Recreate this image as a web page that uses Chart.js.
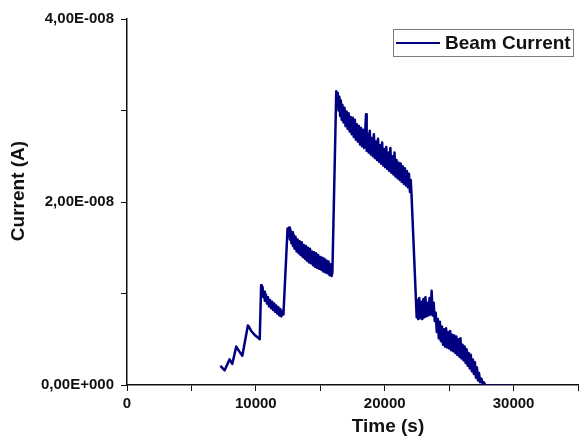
<!DOCTYPE html>
<html>
<head>
<meta charset="utf-8">
<script src="https://cdn.jsdelivr.net/npm/chart.js@4"></script>
<style>
  html, body { margin: 0; padding: 0; background: #fff; }
  canvas { display: block; }
</style>
</head>
<body>
<canvas id="beamChart" width="582" height="437"></canvas>
<script>
// time in seconds, current in nA (1 nA = 1E-009 A)
const timeSec = [
  7250, 7580, 7960, 8170, 8480, 8700, 8950, 9380, 9450, 9640, 9890, 10150, 10300,
  10410, 10460, 10520, 10580, 10640, 10700, 10780, 10860, 10940, 11020, 11100, 11180,
  11260, 11340, 11420, 11500, 11580, 11660, 11740, 11820, 11900, 11980, 12060, 12140,
  12460, 12520, 12580, 12640, 12700, 12760, 12820, 12880, 12940, 13000, 13080, 13160,
  13240, 13320, 13400, 13480, 13560, 13640, 13720, 13800, 13880, 13960, 14040, 14120,
  14200, 14280, 14360, 14440, 14520, 14600, 14680, 14760, 14840, 14920, 15000, 15080,
  15160, 15240, 15320, 15400, 15480, 15560, 15640, 15720, 15800, 15880, 15940,
  16240, 16300, 16360, 16420, 16480, 16540, 16600, 16660, 16720, 16800, 16880, 16960,
  17040, 17120, 17200, 17280, 17360, 17440, 17520, 17600, 17680, 17760, 17840, 17920,
  18000, 18080, 18160, 18240, 18320, 18400, 18480, 18550, 18600, 18680, 18760, 18840,
  18920, 19000, 19080, 19160, 19240, 19320, 19400, 19480, 19560, 19640, 19720, 19800,
  19880, 19960, 20040, 20120, 20200, 20280, 20360, 20440, 20520, 20600, 20680, 20760,
  20840, 20920, 21000, 21080, 21160, 21240, 21320, 21400, 21480, 21560, 21640, 21720,
  21800, 21880, 21960, 22020, 22080,
  22480, 22540, 22600, 22680, 22760, 22840, 22920, 23000, 23080, 23160, 23240, 23320,
  23400, 23480, 23560, 23640, 23720, 23800, 23880, 23960, 24040, 24120, 24200, 24280,
  24360, 24440, 24520, 24600, 24680, 24760, 24840, 24920, 25000, 25080, 25160, 25240,
  25320, 25400, 25480, 25560, 25640, 25720, 25800, 25880, 25960, 26040, 26120, 26200,
  26280, 26360, 26440, 26520, 26600, 26680, 26760, 26840, 26920, 27000, 27080, 27160,
  27240, 27320, 27400, 27500, 27600, 27700, 27800, 30000
];
const currentNA = [
  2.1, 1.6, 2.8, 2.3, 4.2, 3.7, 3.2, 6.5, 6.4, 5.9, 5.5, 5.2, 5.0,
  10.9, 10.0, 10.7, 9.6, 10.2, 9.2, 9.9, 8.9, 9.6, 8.6, 9.3, 8.4,
  9.1, 8.2, 8.9, 8.0, 8.7, 7.8, 8.5, 7.6, 8.3, 7.5, 8.1, 7.7,
  17.1, 16.4, 17.2, 15.9, 16.9, 15.5, 16.7, 15.2, 16.4, 14.9, 16.2, 14.6,
  15.9, 14.4, 15.7, 14.2, 15.6, 14.0, 15.3, 13.8, 15.2, 13.6, 15.0, 13.4,
  14.9, 13.3, 14.6, 13.1, 14.5, 12.9, 14.4, 12.8, 14.2, 12.7, 14.0, 12.6,
  13.9, 12.4, 13.8, 12.3, 13.6, 12.2, 13.5, 12.0, 13.2, 11.9, 12.3,
  32.1, 30.6, 31.9, 30.0, 31.5, 29.4, 31.1, 29.0, 30.6, 28.7, 30.3, 28.3,
  29.9, 28.0, 29.7, 27.7, 29.3, 27.4, 29.2, 27.1, 29.0, 26.8, 28.5, 26.6,
  28.3, 26.3, 28.1, 26.1, 27.9, 25.9, 27.6, 29.6, 25.6, 27.5, 25.4, 27.8,
  25.2, 27.0, 25.0, 27.4, 24.8, 26.6, 24.6, 26.9, 24.4, 26.2, 24.2, 26.5,
  24.0, 25.8, 23.8, 26.0, 23.6, 25.4, 23.4, 25.9, 23.2, 25.0, 23.0, 25.4,
  22.8, 24.6, 22.6, 24.3, 22.4, 24.2, 22.2, 23.9, 22.0, 23.7, 21.8, 23.4,
  21.6, 23.1, 21.1, 22.4, 20.8,
  7.4, 9.3, 7.2, 9.5, 7.3, 9.1, 7.2, 9.4, 7.4, 9.6, 7.5, 9.0,
  7.6, 9.5, 7.7, 10.3, 7.6, 9.0, 7.0, 7.9, 5.8, 7.2, 5.1, 6.9,
  4.8, 6.4, 4.4, 6.1, 4.2, 6.2, 4.1, 5.8, 4.0, 5.9, 3.8, 5.5,
  3.7, 5.4, 3.5, 5.3, 3.3, 5.0, 3.1, 5.1, 2.9, 4.4, 2.7, 4.2,
  2.4, 3.9, 2.1, 3.5, 1.8, 3.3, 1.5, 2.8, 1.2, 2.5, 0.8, 1.9,
  0.5, 1.3, 0.3, 0.7, 0.1, 0.3, 0, 0
];

const xLabelled = [0, 10000, 20000, 30000];
const yLabelled = [0, 20, 40];

const lineColor = '#000080';
const fontFamily = "'Liberation Sans', Arial, sans-serif";

// 20 nA -> "2,00E-008"
function sciLabel(nA) {
  const amps = nA * 1e-9;
  if (amps === 0) return '0,00E+000';
  const exp = Math.floor(Math.log10(amps) + 1e-9);
  const mant = amps / Math.pow(10, exp);
  return mant.toFixed(2).replace('.', ',') + 'E' + (exp < 0 ? '-' : '+') + String(Math.abs(exp)).padStart(3, '0');
}

const points = timeSec.map((t, i) => ({ x: t, y: currentNA[i] }));

const data = {
  datasets: [{
    label: 'Beam Current',
    data: points,
    borderColor: lineColor,
    backgroundColor: lineColor,
    borderWidth: 2.5,
    borderJoinStyle: 'round',
    pointRadius: 0,
    tension: 0,
    segment: {
      borderWidth: (ctx) => (ctx.p0.parsed.y === 0 && ctx.p1.parsed.y === 0 ? 1 : 2.5)
    }
  }]
};

// legend box + axis titles, placed like the Origin export
const extras = {
  id: 'extras',
  afterDraw(chart) {
    const { ctx } = chart;
    const ds = chart.data.datasets[0];
    ctx.save();
    ctx.strokeStyle = '#7a7a7a';
    ctx.lineWidth = 1;
    ctx.strokeRect(393.5, 29.5, 180, 27);
    ctx.strokeStyle = ds.borderColor;
    ctx.lineWidth = 2;
    ctx.beginPath();
    ctx.moveTo(396, 43);
    ctx.lineTo(440, 43);
    ctx.stroke();
    ctx.fillStyle = '#111';
    ctx.font = 'bold 19px ' + fontFamily;
    ctx.textAlign = 'left';
    ctx.textBaseline = 'middle';
    ctx.fillText(ds.label, 445, 43.5);

    ctx.textAlign = 'center';
    ctx.fillText('Time (s)', 388, 427);
    ctx.translate(19, 191);
    ctx.rotate(-Math.PI / 2);
    ctx.fillText('Current (A)', 0, 0);
    ctx.restore();
  }
};

const config = {
  type: 'line',
  data,
  options: {
    responsive: false,
    animation: false,
    devicePixelRatio: 1,
    layout: { padding: { top: 19, right: 1, left: 0, bottom: 0 } },
    plugins: {
      legend: { display: false },
      tooltip: { enabled: false }
    },
    scales: {
      x: {
        type: 'linear',
        min: 0,
        max: 35000,
        afterFit: (scale) => { scale.height = 52; },
        border: { color: '#111', width: 1.5 },
        grid: { drawOnChartArea: false, drawTicks: true, tickLength: 6, tickColor: '#111' },
        ticks: {
          stepSize: 5000,
          maxRotation: 0,
          autoSkip: false,
          padding: 4,
          color: '#111',
          font: { family: fontFamily, size: 15, weight: 'bold' },
          callback: (v) => (xLabelled.includes(v) ? String(v) : '')
        }
      },
      y: {
        min: 0,
        max: 40,
        afterFit: (scale) => { scale.width = 127; },
        border: { color: '#111', width: 1.5 },
        grid: { drawOnChartArea: false, drawTicks: true, tickLength: 6, tickColor: '#111' },
        ticks: {
          stepSize: 10,
          autoSkip: false,
          padding: 7,
          color: '#111',
          font: { family: fontFamily, size: 15, weight: 'bold' },
          callback: (v) => (yLabelled.includes(v) ? sciLabel(v) : '')
        }
      }
    }
  },
  plugins: [extras]
};

var beamChart = new Chart(
  document.getElementById('beamChart').getContext('2d'),
  config
);
</script>
</body>
</html>
